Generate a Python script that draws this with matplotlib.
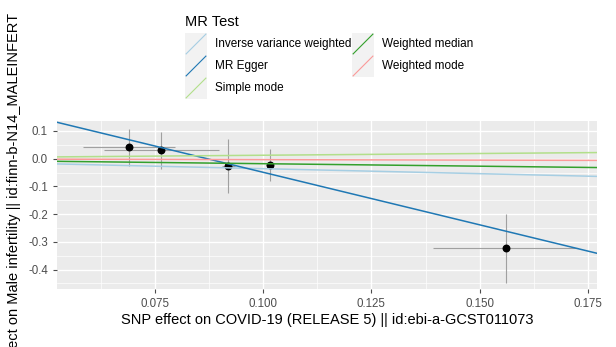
import matplotlib.pyplot as plt
import numpy as np
from matplotlib.lines import Line2D

plt.rcParams['font.family'] = ['Liberation Sans', 'DejaVu Sans']

# SNP effects (exposure = COVID-19, outcome = male infertility)
snp_x = [0.069, 0.0765, 0.092, 0.1015, 0.156]
snp_y = [0.041, 0.030, -0.025, -0.022, -0.323]
snp_x_se = [0.0106, 0.0132, 0.0015, 0.0008, 0.0167]
snp_y_se = [0.066, 0.068, 0.097, 0.057, 0.125]

methods = ['Inverse variance weighted', 'MR Egger', 'Simple mode',
           'Weighted median', 'Weighted mode']
slopes = [-0.36, -3.79, 0.125, -0.18, -0.034]
intercepts = [0.0, 0.33, 0.0, 0.0, 0.0]
colors = ['#A6CEE3', '#1F78B4', '#B2DF8A', '#33A02C', '#FB9A99']

xticks = [0.075, 0.100, 0.125, 0.150, 0.175]
yticks = [0.1, 0.0, -0.1, -0.2, -0.3, -0.4]

fig = plt.figure(figsize=(6.16, 3.47), dpi=100)
W, H = 616.0, 347.0
ax = fig.add_axes([57 / W, 1 - 289 / H, (597 - 57) / W, (289 - 121) / H])
ax.set_facecolor('#EBEBEB')
for s in ax.spines.values():
    s.set_visible(False)

xlim = (0.0524, 0.1771)
ylim = (-0.47, 0.136)
ax.set_xlim(*xlim)
ax.set_ylim(*ylim)

# grid like ggplot
for t in np.arange(0.0625, 0.18, 0.025):
    ax.axvline(t, color='white', lw=0.5, zorder=0)
for t in np.arange(-0.45, 0.14, 0.1):
    ax.axhline(t, color='white', lw=0.5, zorder=0)
for t in xticks:
    ax.axvline(t, color='white', lw=1.0, zorder=0)
for t in yticks:
    ax.axhline(t, color='white', lw=1.0, zorder=0)

ax.errorbar(snp_x, snp_y, xerr=snp_x_se, yerr=snp_y_se, fmt='none',
            ecolor='#A0A0A0', elinewidth=0.8, capsize=0, zorder=2)
ax.scatter(snp_x, snp_y, s=22, color='black', zorder=3)

xx = np.array(xlim)
for m, b, a, c in zip(methods, slopes, intercepts, colors):
    ax.plot(xx, a + b * xx, color=c, lw=1.1, zorder=4)

ax.set_xticks(xticks)
ax.set_xticklabels(['0.075', '0.100', '0.125', '0.150', '0.175'])
ax.set_yticks(yticks)
ax.set_yticklabels(['0.1', '0.0', '-0.1', '-0.2', '-0.3', '-0.4'])
ax.tick_params(colors='#4D4D4D', labelsize=8.3, length=3, width=0.8,
               labelcolor='#4D4D4D')
ax.set_xlabel('SNP effect on COVID-19 (RELEASE 5) || id:ebi-a-GCST011073',
              fontsize=10.5, labelpad=2)
ax.set_ylabel('SNP effect on Male infertility || id:finn-b-N14_MALEINFERT',
              fontsize=10.5, labelpad=5)

# legend drawn like ggplot (abline keys)
fig.text(185 / W, 1 - 22 / H, 'MR Test', fontsize=10.5, va='center', ha='left')
key_pos = [(185, 44), (185, 66), (185, 88), (352, 44), (352, 66)]
for m, c, (kx, ky) in zip(methods, colors, key_pos):
    kax = fig.add_axes([kx / W, 1 - (ky + 11) / H, 22 / W, 22 / H])
    kax.set_facecolor('#F2F2F2')
    kax.set_xlim(0, 1)
    kax.set_ylim(0, 1)
    kax.add_line(Line2D([0.05, 0.95], [0.05, 0.95], color=c, lw=0.8))
    kax.set_xticks([])
    kax.set_yticks([])
    for s in kax.spines.values():
        s.set_visible(False)
    fig.text((kx + 30) / W, 1 - ky / H, m, fontsize=8.5, va='center', ha='left')

fig.savefig('out.png', dpi=100)
